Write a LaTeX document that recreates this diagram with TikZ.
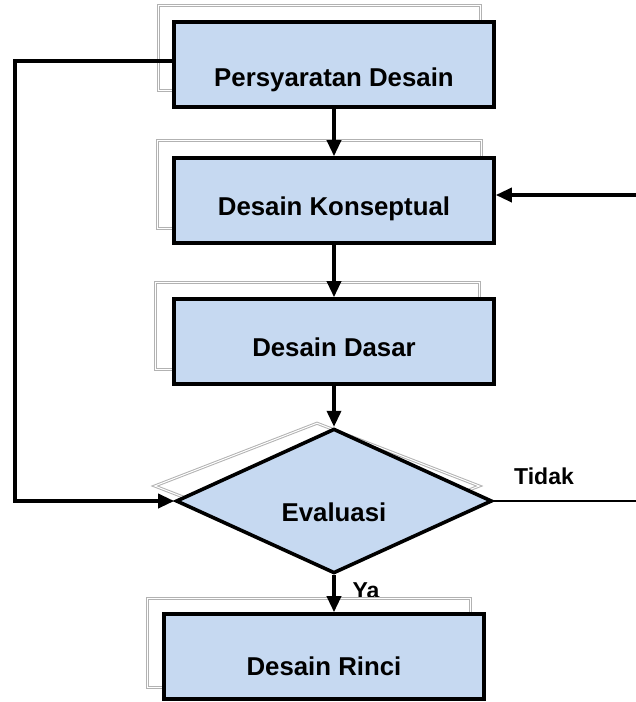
\documentclass[tikz,border=0pt]{standalone}
\usepackage{fontspec}
\setmainfont{Liberation Sans}
\usetikzlibrary{arrows.meta,shapes.geometric,calc}
\definecolor{boxblue}{RGB}{198,217,241}
\begin{document}
\begin{tikzpicture}[x=1pt,y=-1pt,
  mainbox/.style={draw=black, line width=3.6pt, fill=boxblue, minimum width=320pt, minimum height=85pt, inner sep=0pt, text depth=0pt, font=\fontsize{25.8}{28}\selectfont\bfseries},
  shadowbox/.style={draw=gray!60, line width=1pt, double=white, double distance=1pt, fill=white, inner sep=0pt},
  decision/.style={diamond, draw=black, line width=3.6pt, fill=boxblue, inner sep=0pt, minimum width=316pt, minimum height=120pt, text depth=0pt, font=\fontsize{25.8}{28}\selectfont\bfseries},
  shadowdiamond/.style={diamond, draw=gray!60, line width=1pt, double=white, double distance=1pt, fill=white, inner sep=0pt, minimum width=325pt, minimum height=126pt},
  conn/.style={line width=3.4pt, draw=black},
  arr/.style={conn, -{Triangle[length=16pt,width=14pt]}},
  lbl/.style={font=\fontsize{23}{26}\selectfont\bfseries, inner sep=0pt}
]
\useasboundingbox (0,0) rectangle (636,702);

% labels (drawn first so the shadow of the last box covers part of "Ya")
\node[lbl, anchor=base] (ya) at (366,598) {Ya};
\node[lbl, anchor=base] (tidak) at (544,484.5) {Tidak};

% shadows
\node[shadowbox, minimum width=322pt, minimum height=85pt] (s1) at (319,47.5) {};
\node[shadowbox, minimum width=324pt, minimum height=88pt] (s2) at (319,184) {};
\node[shadowbox, minimum width=324pt, minimum height=87pt] (s3) at (317,325.5) {};
\node[shadowdiamond] (sd) at (317,486) {};
\node[shadowbox, minimum width=323pt, minimum height=89pt] (s5) at (308.5,642.5) {};

% main shapes
\node[mainbox, text height=44pt] (b1) at (334,64.5) {Persyaratan Desain};
\node[mainbox, text height=29pt] (b2) at (334,200.5) {Desain Konseptual};
\node[mainbox, text height=30pt] (b3) at (334,341.5) {Desain Dasar};
\node[decision, text height=40pt] (d) at (334,501) {Evaluasi};
\node[mainbox, text height=38pt] (b5) at (324,656.5) {Desain Rinci};

% helper coordinates
\coordinate (L) at (15,501);
\coordinate (R1) at (636,501);
\coordinate (R2) at (636,195);

% connectors
\draw[arr] (b1.south) -- (b2.north);
\draw[arr] (b2.south) -- (b3.north);
\draw[arr] (b3.south) -- (d.north);
\draw[arr] (d.south) -- (d.south |- b5.north);
\draw[arr] ([yshift=3.5pt]b1.west) -- ([yshift=3.5pt]b1.west -| L) -- (L) -- (d.west);
\draw[conn, line width=2.8pt] (d.east) -- (R1);
\draw[arr] (R2) -- (R2 -| b2.east);
\end{tikzpicture}
\end{document}
